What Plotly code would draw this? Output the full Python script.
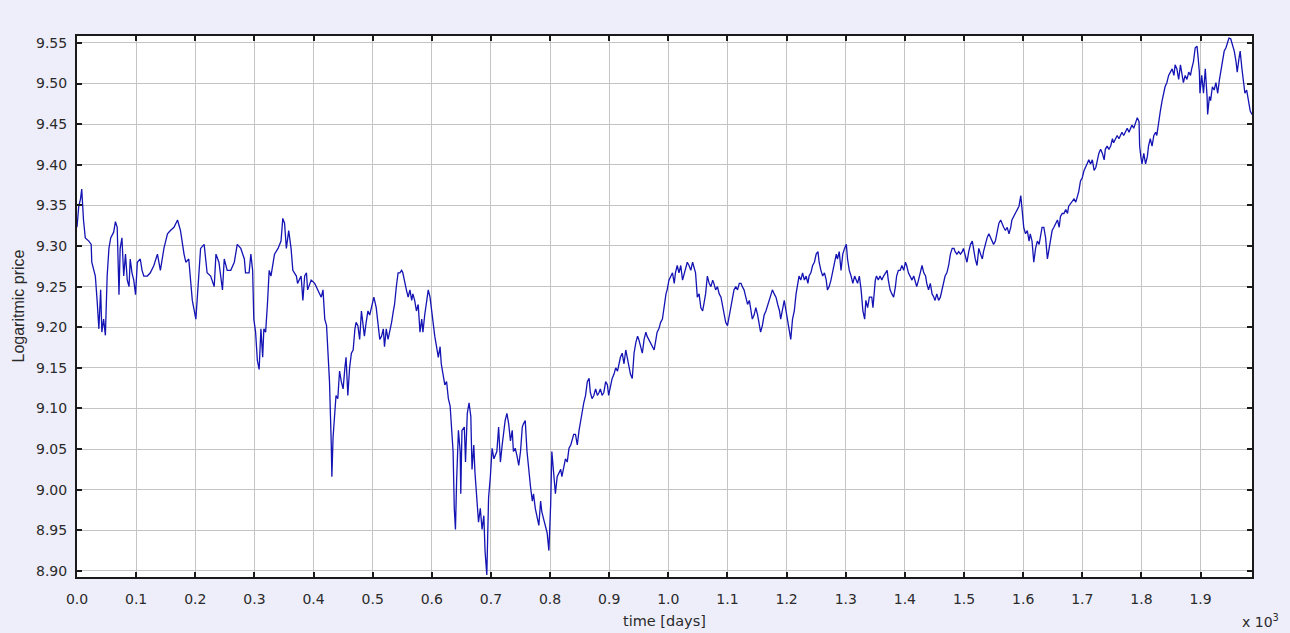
import plotly.graph_objects as go

# Daily logarithmic price series (time in days)
days = [
    0, 3, 6, 8, 11, 14, 20, 24, 25, 31, 34, 37, 40, 42, 45, 48, 51, 54, 57, 62,
    65, 68, 71, 73, 76, 79, 82, 85, 88, 90, 93, 96, 99, 102, 107, 110, 113, 119, 124, 130,
    136, 141, 147, 153, 158, 164, 170, 175, 181, 184, 189, 195, 201, 203, 209, 215, 220, 226, 232, 235,
    240, 246, 249, 254, 260, 266, 271, 277, 283, 285, 291, 294, 297, 299, 302, 305, 308, 311, 314, 316,
    319, 322, 325, 328, 334, 340, 345, 348, 351, 354, 358, 362, 365, 371, 373, 379, 382, 385, 388, 390,
    396, 402, 407, 413, 416, 419, 422, 424, 427, 430, 431, 433, 436, 438, 441, 444, 447, 450, 453, 455,
    458, 461, 464, 467, 470, 472, 475, 478, 481, 484, 486, 489, 492, 495, 498, 502, 506, 509, 512, 515,
    518, 520, 523, 526, 529, 532, 535, 537, 540, 543, 546, 549, 551, 554, 557, 560, 563, 566, 568, 571,
    574, 577, 580, 583, 585, 588, 591, 594, 597, 599, 602, 605, 608, 611, 614, 616, 619, 622, 625, 628,
    631, 633, 636, 638, 640, 642, 645, 648, 649, 651, 655, 657, 660, 663, 666, 668, 671, 673, 676, 679,
    682, 685, 688, 690, 693, 696, 699, 702, 705, 707, 710, 713, 716, 719, 722, 724, 727, 730, 733, 736,
    738, 741, 744, 747, 750, 753, 755, 758, 761, 764, 767, 770, 772, 775, 778, 781, 784, 786, 789, 792,
    795, 798, 801, 803, 806, 809, 812, 815, 818, 820, 823, 826, 829, 832, 835, 837, 840, 843, 846, 849,
    851, 854, 857, 860, 863, 866, 868, 871, 874, 877, 880, 883, 885, 888, 891, 894, 897, 899, 902, 905,
    908, 911, 914, 916, 919, 922, 925, 928, 931, 933, 936, 939, 942, 945, 948, 950, 953, 956, 959, 962,
    964, 967, 970, 973, 976, 979, 981, 984, 987, 990, 993, 996, 998, 1001, 1007, 1010, 1012, 1015, 1018, 1021,
    1024, 1027, 1029, 1032, 1035, 1038, 1041, 1044, 1046, 1049, 1052, 1055, 1058, 1060, 1063, 1066, 1069, 1072, 1075, 1077,
    1080, 1083, 1086, 1089, 1092, 1094, 1097, 1100, 1103, 1106, 1108, 1111, 1114, 1117, 1120, 1123, 1125, 1128, 1131, 1134,
    1137, 1140, 1142, 1145, 1148, 1151, 1154, 1156, 1159, 1162, 1165, 1168, 1171, 1173, 1176, 1179, 1182, 1185, 1188, 1190,
    1193, 1196, 1199, 1202, 1205, 1207, 1210, 1213, 1216, 1219, 1221, 1224, 1227, 1230, 1233, 1236, 1238, 1241, 1244, 1247,
    1250, 1253, 1255, 1258, 1261, 1264, 1267, 1269, 1272, 1275, 1278, 1281, 1284, 1286, 1289, 1292, 1295, 1298, 1301, 1303,
    1306, 1309, 1312, 1315, 1318, 1320, 1323, 1326, 1329, 1332, 1334, 1337, 1340, 1344, 1346, 1348, 1350, 1352, 1355, 1358,
    1361, 1364, 1367, 1370, 1372, 1375, 1378, 1381, 1384, 1386, 1389, 1392, 1395, 1398, 1401, 1403, 1406, 1409, 1412, 1415,
    1418, 1420, 1423, 1426, 1429, 1432, 1435, 1437, 1440, 1443, 1446, 1449, 1451, 1454, 1457, 1460, 1463, 1466, 1468, 1471,
    1474, 1477, 1480, 1483, 1485, 1488, 1491, 1494, 1497, 1499, 1502, 1505, 1508, 1511, 1514, 1516, 1519, 1522, 1525, 1528,
    1531, 1533, 1536, 1539, 1542, 1545, 1548, 1550, 1553, 1556, 1559, 1562, 1564, 1567, 1570, 1573, 1576, 1579, 1581, 1584,
    1587, 1590, 1593, 1596, 1598, 1601, 1604, 1607, 1610, 1612, 1615, 1618, 1621, 1624, 1627, 1629, 1632, 1635, 1638, 1641,
    1644, 1646, 1649, 1652, 1655, 1658, 1661, 1663, 1666, 1669, 1672, 1675, 1677, 1686, 1689, 1692, 1694, 1697, 1700, 1703,
    1706, 1708, 1711, 1714, 1717, 1720, 1723, 1725, 1728, 1731, 1734, 1737, 1739, 1742, 1745, 1748, 1751, 1753, 1756, 1759,
    1762, 1765, 1767, 1770, 1773, 1776, 1779, 1782, 1784, 1787, 1790, 1793, 1796, 1797, 1799, 1801, 1804, 1807, 1810, 1812,
    1815, 1818, 1821, 1824, 1826, 1829, 1832, 1835, 1838, 1840, 1843, 1846, 1849, 1852, 1855, 1857, 1860, 1863, 1866, 1869,
    1871, 1874, 1877, 1880, 1883, 1885, 1888, 1891, 1894, 1896, 1898, 1899, 1902, 1905, 1908, 1911, 1912, 1915, 1917, 1920,
    1923, 1926, 1929, 1932, 1934, 1937, 1940, 1943, 1946, 1948, 1951, 1954, 1957, 1960, 1962, 1965, 1967, 1970, 1973, 1975,
    1978, 1981, 1984, 1987,
]

log_price = [
    9.323, 9.349, 9.358, 9.370, 9.332, 9.310, 9.306, 9.302, 9.280, 9.263, 9.233, 9.198, 9.246, 9.194, 9.210, 9.190, 9.263, 9.297, 9.310, 9.317,
    9.330, 9.323, 9.240, 9.297, 9.310, 9.263, 9.290, 9.258, 9.250, 9.284, 9.267, 9.258, 9.240, 9.280, 9.284, 9.270, 9.263, 9.263, 9.267, 9.276,
    9.290, 9.270, 9.297, 9.315, 9.319, 9.323, 9.332, 9.319, 9.290, 9.280, 9.284, 9.233, 9.210, 9.233, 9.297, 9.302, 9.267, 9.263, 9.250, 9.290,
    9.280, 9.246, 9.284, 9.270, 9.270, 9.280, 9.302, 9.297, 9.284, 9.267, 9.267, 9.290, 9.270, 9.210, 9.194, 9.159, 9.148, 9.198, 9.163, 9.198,
    9.194, 9.228, 9.270, 9.263, 9.290, 9.297, 9.306, 9.334, 9.328, 9.297, 9.319, 9.297, 9.270, 9.263, 9.254, 9.263, 9.233, 9.263, 9.267, 9.246,
    9.258, 9.254, 9.246, 9.237, 9.246, 9.210, 9.202, 9.176, 9.133, 9.055, 9.016, 9.064, 9.090, 9.116, 9.112, 9.146, 9.133, 9.124, 9.150, 9.163,
    9.116, 9.150, 9.168, 9.172, 9.198, 9.206, 9.202, 9.185, 9.220, 9.198, 9.189, 9.206, 9.220, 9.215, 9.224, 9.237, 9.224, 9.202, 9.185, 9.189,
    9.198, 9.176, 9.198, 9.185, 9.194, 9.206, 9.220, 9.228, 9.250, 9.267, 9.267, 9.270, 9.267, 9.254, 9.246, 9.237, 9.246, 9.233, 9.241, 9.233,
    9.220, 9.228, 9.194, 9.210, 9.194, 9.215, 9.228, 9.246, 9.237, 9.224, 9.206, 9.189, 9.176, 9.163, 9.176, 9.155, 9.142, 9.129, 9.133, 9.112,
    9.103, 9.077, 9.047, 8.977, 8.951, 9.012, 9.073, 9.047, 8.995, 9.073, 9.077, 9.034, 9.094, 9.107, 9.090, 9.025, 9.055, 9.021, 8.990, 8.960,
    8.977, 8.951, 8.968, 8.925, 8.895, 8.990, 9.016, 9.051, 9.038, 9.042, 9.047, 9.077, 9.034, 9.055, 9.073, 9.085, 9.094, 9.081, 9.060, 9.073,
    9.047, 9.051, 9.042, 9.030, 9.047, 9.077, 9.081, 9.085, 9.047, 9.021, 9.003, 8.986, 8.995, 8.977, 8.968, 8.956, 8.986, 8.973, 8.964, 8.956,
    8.947, 8.925, 8.982, 9.047, 9.025, 8.995, 9.016, 9.021, 9.025, 9.016, 9.030, 9.038, 9.034, 9.051, 9.055, 9.060, 9.068, 9.068, 9.055, 9.073,
    9.081, 9.098, 9.107, 9.116, 9.133, 9.137, 9.120, 9.112, 9.116, 9.124, 9.116, 9.120, 9.124, 9.116, 9.120, 9.133, 9.129, 9.116, 9.129, 9.137,
    9.142, 9.150, 9.146, 9.155, 9.163, 9.168, 9.155, 9.172, 9.159, 9.150, 9.142, 9.137, 9.168, 9.181, 9.189, 9.185, 9.176, 9.168, 9.185, 9.194,
    9.189, 9.185, 9.181, 9.176, 9.172, 9.185, 9.194, 9.198, 9.206, 9.210, 9.228, 9.241, 9.246, 9.258, 9.267, 9.254, 9.267, 9.276, 9.267, 9.276,
    9.258, 9.267, 9.270, 9.280, 9.276, 9.270, 9.280, 9.270, 9.267, 9.237, 9.241, 9.224, 9.220, 9.228, 9.241, 9.263, 9.254, 9.250, 9.258, 9.254,
    9.246, 9.250, 9.241, 9.237, 9.224, 9.215, 9.206, 9.202, 9.215, 9.228, 9.237, 9.246, 9.250, 9.246, 9.254, 9.254, 9.250, 9.246, 9.237, 9.228,
    9.233, 9.220, 9.210, 9.215, 9.224, 9.215, 9.202, 9.194, 9.202, 9.215, 9.220, 9.228, 9.233, 9.241, 9.246, 9.241, 9.237, 9.228, 9.220, 9.210,
    9.224, 9.233, 9.220, 9.206, 9.198, 9.185, 9.210, 9.220, 9.241, 9.254, 9.263, 9.258, 9.267, 9.258, 9.263, 9.254, 9.263, 9.267, 9.276, 9.280,
    9.290, 9.293, 9.280, 9.270, 9.263, 9.267, 9.258, 9.246, 9.250, 9.258, 9.270, 9.280, 9.290, 9.284, 9.293, 9.270, 9.290, 9.297, 9.302, 9.284,
    9.270, 9.263, 9.254, 9.263, 9.258, 9.254, 9.263, 9.246, 9.220, 9.210, 9.233, 9.224, 9.237, 9.237, 9.224, 9.246, 9.258, 9.263, 9.258, 9.263,
    9.258, 9.263, 9.267, 9.270, 9.258, 9.246, 9.241, 9.237, 9.250, 9.263, 9.270, 9.270, 9.276, 9.270, 9.280, 9.276, 9.267, 9.263, 9.258, 9.263,
    9.254, 9.250, 9.258, 9.267, 9.276, 9.267, 9.263, 9.254, 9.246, 9.254, 9.241, 9.237, 9.233, 9.241, 9.233, 9.237, 9.246, 9.254, 9.263, 9.267,
    9.276, 9.290, 9.297, 9.297, 9.293, 9.290, 9.293, 9.290, 9.293, 9.297, 9.290, 9.280, 9.293, 9.302, 9.306, 9.297, 9.284, 9.276, 9.297, 9.290,
    9.284, 9.293, 9.302, 9.310, 9.315, 9.310, 9.306, 9.302, 9.306, 9.319, 9.328, 9.332, 9.328, 9.323, 9.319, 9.323, 9.315, 9.323, 9.332, 9.336,
    9.340, 9.345, 9.349, 9.362, 9.349, 9.323, 9.315, 9.319, 9.306, 9.315, 9.306, 9.280, 9.297, 9.306, 9.302, 9.310, 9.323, 9.323, 9.310, 9.284,
    9.297, 9.306, 9.319, 9.323, 9.328, 9.332, 9.323, 9.336, 9.340, 9.340, 9.345, 9.340, 9.349, 9.358, 9.354, 9.362, 9.367, 9.380, 9.384, 9.393,
    9.397, 9.401, 9.406, 9.401, 9.406, 9.393, 9.397, 9.406, 9.414, 9.419, 9.414, 9.406, 9.419, 9.423, 9.419, 9.423, 9.432, 9.427, 9.432, 9.436,
    9.432, 9.436, 9.440, 9.436, 9.440, 9.445, 9.440, 9.445, 9.449, 9.445, 9.453, 9.458, 9.453, 9.423, 9.410, 9.401, 9.414, 9.401, 9.410, 9.423,
    9.432, 9.423, 9.436, 9.440, 9.436, 9.453, 9.466, 9.479, 9.488, 9.496, 9.501, 9.510, 9.514, 9.518, 9.510, 9.523, 9.518, 9.505, 9.523, 9.510,
    9.501, 9.510, 9.505, 9.514, 9.510, 9.518, 9.527, 9.544, 9.546, 9.531, 9.514, 9.488, 9.510, 9.488, 9.518, 9.484, 9.462, 9.484, 9.479, 9.496,
    9.492, 9.501, 9.488, 9.505, 9.514, 9.531, 9.540, 9.544, 9.553, 9.556, 9.555, 9.548, 9.540, 9.527, 9.514, 9.531, 9.540, 9.518, 9.501, 9.488,
    9.492, 9.479, 9.466, 9.462,
]

x_tick_values = [0, 100, 200, 300, 400, 500, 600, 700, 800, 900,
                 1000, 1100, 1200, 1300, 1400, 1500, 1600, 1700, 1800, 1900]
x_tick_labels = ["0.0", "0.1", "0.2", "0.3", "0.4", "0.5", "0.6", "0.7", "0.8", "0.9",
                 "1.0", "1.1", "1.2", "1.3", "1.4", "1.5", "1.6", "1.7", "1.8", "1.9"]
y_tick_values = [8.90, 8.95, 9.00, 9.05, 9.10, 9.15, 9.20, 9.25, 9.30, 9.35, 9.40, 9.45, 9.50, 9.55]

BG = "#eeeefa"
TICK_FONT = dict(family="DejaVu Sans", size=14, color="#2a2a2a")

fig = go.Figure()
fig.add_trace(go.Scatter(
    x=days, y=log_price, mode="lines",
    line=dict(color="#1414b4", width=1.3),
    hoverinfo="skip", showlegend=False,
))

axis_common = dict(
    showline=True, linecolor="#1a1a1a", linewidth=2, mirror="ticks",
    ticks="inside", ticklen=5, tickwidth=1.5, tickcolor="#1a1a1a",
    showgrid=True, gridcolor="#c4c4c4", gridwidth=1,
    zeroline=False, tickfont=TICK_FONT,
)

fig.update_xaxes(
    range=[0, 1987], tickmode="array",
    tickvals=x_tick_values, ticktext=x_tick_labels,
    ticklabelstandoff=8, **axis_common,
)
fig.update_yaxes(
    range=[8.8925, 9.5585], tickmode="array",
    tickvals=y_tick_values, ticktext=[f"{v:.2f}" for v in y_tick_values],
    ticklabelstandoff=5, **axis_common,
)

fig.update_layout(
    width=1290, height=633,
    margin=dict(l=77, r=38, t=36, b=56, autoexpand=False),
    paper_bgcolor=BG, plot_bgcolor="white",
    annotations=[
        dict(text="time [days]", xref="paper", yref="paper", x=0.5, y=-44 / 541,
             xanchor="center", yanchor="middle", showarrow=False,
             font=dict(family="DejaVu Sans", size=14.5, color="#2a2a2a")),
        dict(text="Logaritmic price", xref="paper", yref="paper", x=-59 / 1175, y=0.5,
             xanchor="center", yanchor="middle", textangle=-90, showarrow=False,
             font=dict(family="Liberation Sans Narrow, Liberation Sans, Arial", size=16, color="#2a2a2a")),
        dict(text="x 10<sup>3</sup>", xref="paper", yref="paper", x=(1260 - 77) / 1175, y=-44 / 541,
             xanchor="center", yanchor="middle", showarrow=False,
             font=dict(family="DejaVu Sans", size=14, color="#2a2a2a")),
    ],
)

fig.write_html("out.html", config={"displayModeBar": False})
